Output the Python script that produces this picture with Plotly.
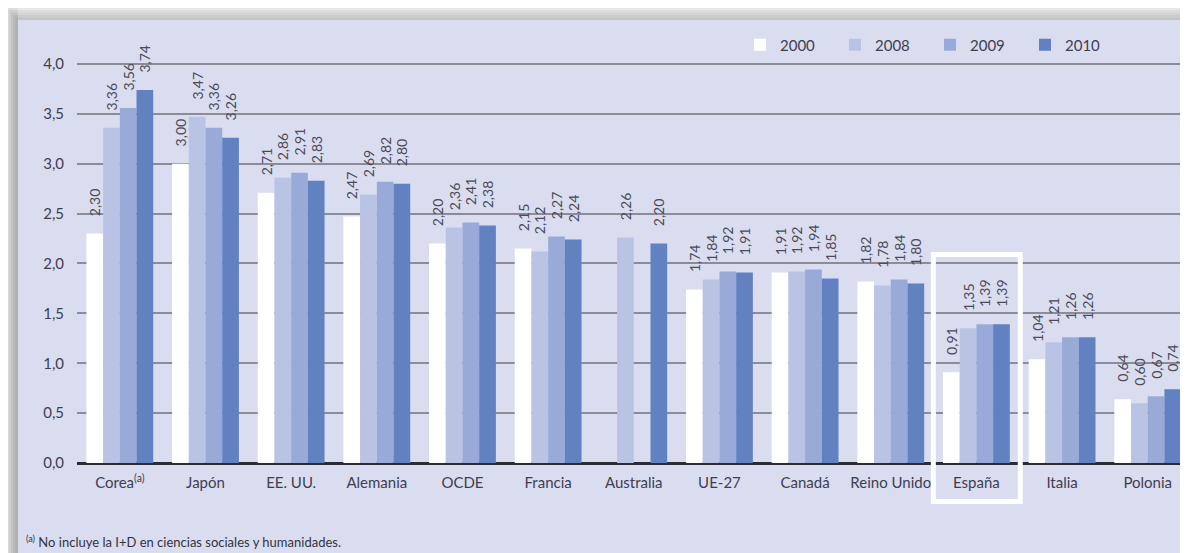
import plotly.graph_objects as go

paises = ["Corea<sup>(a)</sup>", "Japón", "EE. UU.", "Alemania", "OCDE", "Francia",
          "Australia", "UE-27", "Canadá", "Reino Unido", "España", "Italia", "Polonia"]
anios = ["2000", "2008", "2009", "2010"]

v2000 = [2.30, 3.00, 2.71, 2.47, 2.20, 2.15, None, 1.74, 1.91, 1.82, 0.91, 1.04, 0.64]
v2008 = [3.36, 3.47, 2.86, 2.69, 2.36, 2.12, 2.26, 1.84, 1.92, 1.78, 1.35, 1.21, 0.60]
v2009 = [3.56, 3.36, 2.91, 2.82, 2.41, 2.27, None, 1.92, 1.94, 1.84, 1.39, 1.26, 0.67]
v2010 = [3.74, 3.26, 2.83, 2.80, 2.38, 2.24, 2.20, 1.91, 1.85, 1.80, 1.39, 1.26, 0.74]

series = [v2000, v2008, v2009, v2010]
colores = ["#ffffff", "#b9c3e4", "#9aaad8", "#6281c1"]

# the page body adds an 8px margin, so the figure is drawn 8px smaller
# and all screen positions below are given in window pixels
OFF = 8
W, H = 1188 - OFF, 553 - OFF
ML, MR, MT, MB = 77 - OFF, 0, 59 - OFF, 90
PW, PH = W - ML - MR, H - MT - MB
FONT = "Lato, Open Sans, sans-serif"
PANEL = "#d9ddef"


def px_x(px):
    return (px - OFF - ML) / PW


def px_y(py):
    return (H - MB - (py - OFF)) / PH


def etiqueta(v):
    # padding so the rotated label floats above the bar like in the source
    if v is None:
        return ""
    return "\u00a0\u00a0\u00a0\u00a0" + f"{v:.2f}".replace(".", ",")


fig = go.Figure()

for anio, vals, col in zip(anios, series, colores):
    fig.add_trace(go.Bar(
        x=paises,
        y=vals,
        name=anio,
        marker=dict(color=col, line=dict(width=0)),
        text=[etiqueta(v) for v in vals],
        textposition="outside",
        textangle=-90,
        constraintext="none",
        textfont=dict(family=FONT, size=14, color="#4a4a58"),
        cliponaxis=False,
    ))

shapes = []
# white frame outside the panel + soft shadow on the left and top edges
shapes.append(dict(type="rect", xref="paper", yref="paper", x0=px_x(0), x1=px_x(18),
                   y0=px_y(600), y1=px_y(0), fillcolor="white", line=dict(width=0), layer="below"))
shapes.append(dict(type="rect", xref="paper", yref="paper", x0=px_x(0), x1=px_x(1200),
                   y0=px_y(20), y1=px_y(0), fillcolor="white", line=dict(width=0), layer="below"))
for k in range(6):
    a, b = 4 + 2.3 * k, 5 + 2.5 * k
    shapes.append(dict(type="rect", xref="paper", yref="paper",
                       x0=px_x(a), x1=px_x(18), y0=px_y(600), y1=px_y(b),
                       fillcolor="#666666", opacity=0.11, line=dict(width=0), layer="below"))
    shapes.append(dict(type="rect", xref="paper", yref="paper",
                       x0=px_x(18), x1=px_x(1200), y0=px_y(20), y1=px_y(b),
                       fillcolor="#777777", opacity=0.09, line=dict(width=0), layer="below"))

# highlight box around España
i_esp = paises.index("España")
shapes.append(dict(type="rect", xref="x", yref="paper", x0=i_esp - 0.503, x1=i_esp + 0.512,
                   y0=px_y(501.5), y1=px_y(254.5), line=dict(color="white", width=5),
                   fillcolor="rgba(0,0,0,0)", layer="above"))

fig.update_layout(
    width=W, height=H,
    margin=dict(l=ML, r=MR, t=MT, b=MB, autoexpand=False),
    paper_bgcolor=PANEL,
    plot_bgcolor=PANEL,
    separators=",.",
    barmode="group",
    bargap=0.22,
    bargroupgap=0,
    font=dict(family=FONT, size=14, color="#3e3e52"),
    shapes=shapes,
    showlegend=True,
    legend=dict(orientation="h", x=px_x(740), y=px_y(45), xanchor="left", yanchor="middle",
                bgcolor="rgba(0,0,0,0)", font=dict(size=15, color="#3e3e52"),
                entrywidth=50, entrywidthmode="pixels", itemwidth=30, traceorder="normal"),
    xaxis=dict(range=[-0.5, 12.47], showgrid=False, ticks="", showline=False, automargin=False,
               ticklabelstandoff=9, tickfont=dict(size=15, color="#3e3e52")),
    yaxis=dict(range=[0, 4.05], tick0=0, dtick=0.5, tickformat=".1f", automargin=False,
               showgrid=True, gridcolor="#8c8c98", gridwidth=1.5,
               zeroline=True, zerolinecolor="#2b2b33", zerolinewidth=3,
               ticks="", ticklabelstandoff=12, tickfont=dict(size=15, color="#3e3e52")),
    annotations=[dict(
        text="<sup>(a)</sup> No incluye la I+D en ciencias sociales y humanidades.",
        xref="paper", yref="paper", x=px_x(24), y=px_y(541),
        xanchor="left", yanchor="middle", showarrow=False,
        font=dict(size=13, color="#33333f"),
    )],
)

fig.write_html("out.html")
